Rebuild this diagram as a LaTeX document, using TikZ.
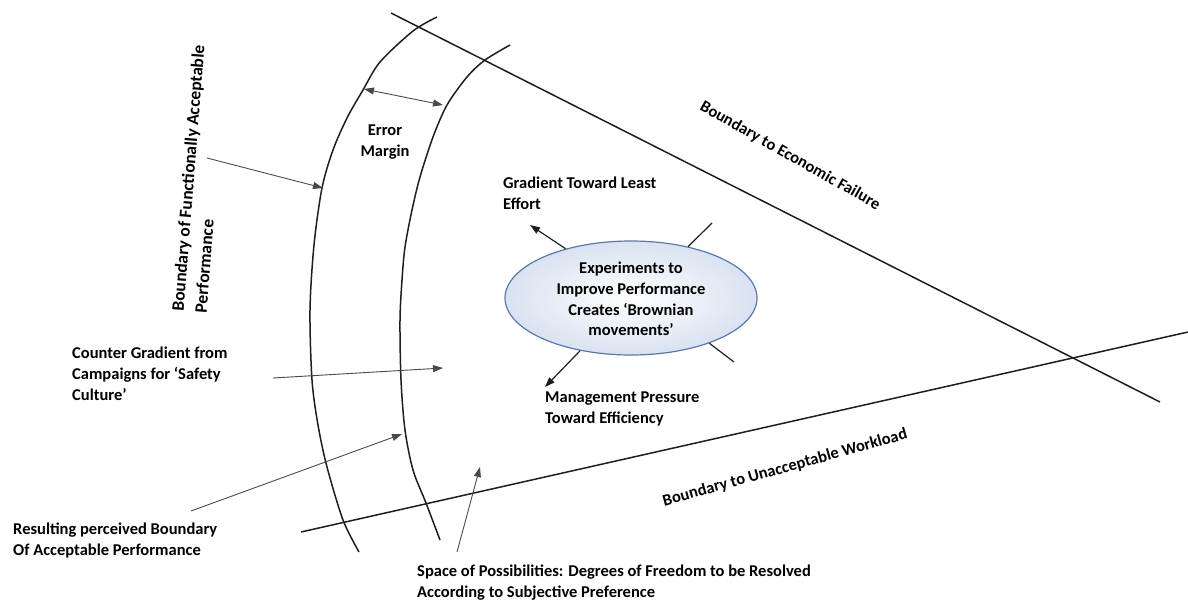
\documentclass[tikz,border=0pt]{standalone}
\usepackage{fontspec}
\setmainfont{Carlito}
\usetikzlibrary{arrows.meta,shapes.geometric}

\definecolor{lineink}{HTML}{1E1E1E}
\definecolor{pointerink}{HTML}{4A4A4A}
\definecolor{ellipseedge}{HTML}{5A78AE}
\definecolor{ellipsefill}{HTML}{D9E2F1}

\tikzset{
  boundary/.style={draw=lineink, line width=1.5pt},
  pointer/.style={draw=pointerink, line width=0.9pt,
    -{Triangle[length=10pt,width=7pt]}},
  twoway/.style={draw=pointerink, line width=0.9pt,
    {Triangle[length=10pt,width=7pt]}-{Triangle[length=10pt,width=7pt]}},
  stub/.style={draw=lineink, line width=1.2pt},
  lbl/.style={font=\fontsize{16.5}{21}\selectfont\bfseries, inner sep=0pt, align=left},
  clbl/.style={lbl, align=center},
}

\begin{document}
\begin{tikzpicture}[x=1pt, y=-1pt]
  \useasboundingbox (0,0) rectangle (1188,603);

  % boundary to economic failure and to unacceptable workload
  \coordinate (econA) at (391,13);
  \coordinate (econB) at (1160,402);
  \coordinate (workA) at (301,532);
  \coordinate (workB) at (1188,332);
  \draw[boundary] (econA) -- (econB);
  \draw[boundary] (workA) -- (workB);

  % boundary of functionally acceptable performance (outer arc)
  \draw[boundary] plot[smooth, tension=0.5] coordinates
    {(437,17) (413,31) (380,62) (363,90) (347,118) (333,150) (322,188) (314,245) (310,310)
     (312,380) (318,425) (327,467) (343,520) (359,552)};
  % perceived boundary of acceptable performance (inner arc)
  \draw[boundary] plot[smooth, tension=0.5] coordinates
    {(510,45) (485,60) (467,77) (447,105) (433,137) (420,177) (412,210) (405,247) (402,280)
     (400,320) (401,380) (405,430) (413,470) (426,503) (440,540)};

  % error margin between the two arcs
  \coordinate (marginL) at (364,89);
  \coordinate (marginR) at (443,105);
  \draw[twoway] (marginL) -- (marginR);
  \node[clbl] (margin) at (385,142) {Error\\Margin};

  % central ellipse
  \node[ellipse, draw=ellipseedge, line width=1.2pt, inner color=white, outer color=ellipsefill,
        minimum width=252pt, minimum height=114pt, inner sep=0pt] (ell) at (631,298) {};
  \node[clbl, font=\fontsize{16.5}{20.7}\selectfont\bfseries] (elltext) at (631,299)
    {Experiments to\\Improve Performance\\Creates ‘Brownian\\movements’};

  % gradients around the ellipse
  \coordinate (leastTip) at (530,225);
  \coordinate (mgmtTip) at (545,387);
  \coordinate (stubNE) at (712,223);
  \coordinate (stubSE) at (734,362);
  \draw[pointer, draw=lineink, line width=1.2pt] (ell.143) -- (leastTip);
  \draw[pointer, draw=lineink, line width=1.2pt] (ell.226) -- (mgmtTip);
  \draw[stub] (ell.42) -- (stubNE);
  \draw[stub] (ell.330) -- (stubSE);

  \node[lbl, anchor=west] (least) at (503,193) {Gradient Toward Least\\Effort};
  \node[lbl, anchor=west] (mgmt) at (545,409) {Management Pressure\\Toward Efficiency};

  % boundary labels
  \node[lbl, rotate=-29.5] (econlbl) at (790,156) {Boundary to Economic Failure};
  \node[lbl, rotate=15.5] (worklbl) at (785,468) {Boundary to Unacceptable Workload};

  % left-hand labels with their pointers
  \node[lbl, font=\fontsize{17.5}{23}\selectfont\bfseries, anchor=west, rotate=85.5] (funclbl) at (189,312)
    {Boundary of Functionally Acceptable\\Performance};
  \coordinate (funcTail) at (207,158);
  \coordinate (funcTip) at (323,188);
  \draw[pointer] (funcTail) -- (funcTip);

  \node[lbl, anchor=west] (counter) at (72,374)
    {Counter Gradient from\\Campaigns for ‘Safety\\Culture’};
  \coordinate (counterTail) at (273,378);
  \coordinate (counterTip) at (443,368);
  \draw[pointer] (counterTail) -- (counterTip);

  \node[lbl, anchor=west] (perceived) at (13,540)
    {Resulting perceived Boundary\\Of Acceptable Performance};
  \coordinate (perceivedTail) at (191,511);
  \coordinate (perceivedTip) at (402,434);
  \draw[pointer] (perceivedTail) -- (perceivedTip);

  \node[lbl, anchor=west] (space) at (417,583)
    {Space of Possibilities: Degrees of Freedom to be Resolved\\According to Subjective Preference};
  \coordinate (spaceTail) at (457,552);
  \coordinate (spaceTip) at (480,467);
  \draw[pointer] (spaceTail) -- (spaceTip);
\end{tikzpicture}
\end{document}
